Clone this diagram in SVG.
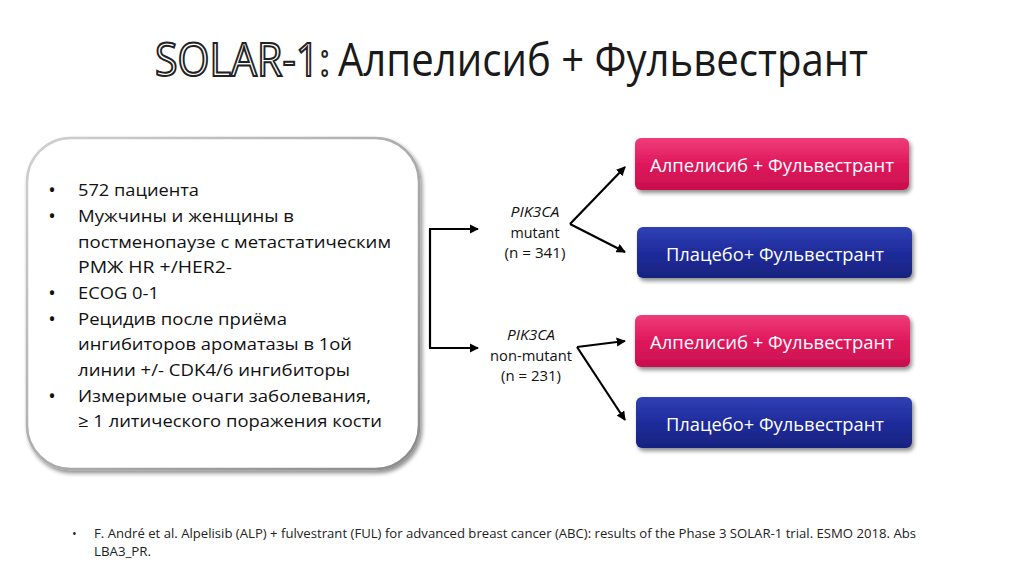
<svg xmlns="http://www.w3.org/2000/svg" width="1024" height="574" viewBox="0 0 1024 574">
  <defs>
    <linearGradient id="gPink" x1="0" y1="0" x2="0" y2="1">
      <stop offset="0" stop-color="#ee3d78"/>
      <stop offset="0.5" stop-color="#e0185c"/>
      <stop offset="1" stop-color="#c80f4e"/>
    </linearGradient>
    <linearGradient id="gBlue" x1="0" y1="0" x2="0" y2="1">
      <stop offset="0" stop-color="#3040b4"/>
      <stop offset="0.5" stop-color="#1f2c9c"/>
      <stop offset="1" stop-color="#18237f"/>
    </linearGradient>
    <linearGradient id="gBorder" x1="0" y1="0" x2="1" y2="1">
      <stop offset="0" stop-color="#d0d0d0"/>
      <stop offset="1" stop-color="#8a8a8a"/>
    </linearGradient>
    <filter id="shadow" x="-10%" y="-10%" width="125%" height="135%">
      <feGaussianBlur in="SourceAlpha" stdDeviation="2"/>
      <feOffset dx="2" dy="3" result="b"/>
      <feComponentTransfer><feFuncA type="linear" slope="0.45"/></feComponentTransfer>
      <feMerge><feMergeNode/><feMergeNode in="SourceGraphic"/></feMerge>
    </filter>
    <marker id="arrow" viewBox="0 0 10 10" refX="9" refY="5" markerWidth="4.2" markerHeight="4.2" orient="auto" markerUnits="strokeWidth">
      <path d="M0,0 L10,5 L0,10 z" fill="#000"/>
    </marker>
    <style>
      .t { font-family: "Open Sans", "Noto Sans", "DejaVu Sans", sans-serif; }
      .body { font-size: 17px; fill: #111; }
      .bul { font-size: 20px; fill: #111; text-anchor: middle; }
      .lbl { font-size: 14px; fill: #111; text-anchor: middle; }
      .btxt { font-size: 18px; fill: #fff; text-anchor: middle; }
      .foot { font-size: 12.5px; fill: #222; }
      .conn { fill: none; stroke: #000; stroke-width: 2.2; }
    </style>
  </defs>

  <rect width="1024" height="574" fill="#fff"/>

  <g id="title">
    <text class="t" x="155" y="76" font-size="45" fill="#fff" stroke="#222" stroke-width="2" textLength="175" lengthAdjust="spacingAndGlyphs">SOLAR-1:</text>
    <text class="t" x="338" y="76" font-size="45" fill="#1a1a1a" textLength="530" lengthAdjust="spacingAndGlyphs">Алпелисиб + Фульвестрант</text>
  </g>

  <g id="criteria">
    <rect x="27" y="138" width="392" height="331" rx="44" ry="44" fill="#fff" stroke="url(#gBorder)" stroke-width="2.5" filter="url(#shadow)"/>
    <g class="t body">
      <text class="bul" x="52" y="197">•</text>
      <text x="78" y="196" textLength="121" lengthAdjust="spacingAndGlyphs">572 пациента</text>
      <text class="bul" x="52" y="223">•</text>
      <text x="78" y="222" textLength="216" lengthAdjust="spacingAndGlyphs">Мужчины и женщины в</text>
      <text x="78" y="248" textLength="313" lengthAdjust="spacingAndGlyphs">постменопаузе с метастатическим</text>
      <text x="78" y="273" textLength="154" lengthAdjust="spacingAndGlyphs">РМЖ HR +/HER2-</text>
      <text class="bul" x="52" y="300">•</text>
      <text x="78" y="299" textLength="81" lengthAdjust="spacingAndGlyphs">ECOG 0-1</text>
      <text class="bul" x="52" y="326">•</text>
      <text x="78" y="325" textLength="209" lengthAdjust="spacingAndGlyphs">Рецидив после приёма</text>
      <text x="78" y="350" textLength="274" lengthAdjust="spacingAndGlyphs">ингибиторов ароматазы в 1ой</text>
      <text x="78" y="376" textLength="272" lengthAdjust="spacingAndGlyphs">линии +/- CDK4/6 ингибиторы</text>
      <text class="bul" x="52" y="403">•</text>
      <text x="78" y="402" textLength="293" lengthAdjust="spacingAndGlyphs">Измеримые очаги заболевания,</text>
      <text x="78" y="427" textLength="304" lengthAdjust="spacingAndGlyphs">≥ 1 литического поражения кости</text>
    </g>
  </g>

  <g id="mutant-label" class="t lbl">
    <text x="535" y="217" font-style="italic" textLength="49" lengthAdjust="spacingAndGlyphs">PIK3CA</text>
    <text x="535" y="238" textLength="49" lengthAdjust="spacingAndGlyphs">mutant</text>
    <text x="535" y="258" textLength="61" lengthAdjust="spacingAndGlyphs">(n = 341)</text>
  </g>

  <g id="nonmutant-label" class="t lbl">
    <text x="531" y="340" font-style="italic" textLength="48" lengthAdjust="spacingAndGlyphs">PIK3CA</text>
    <text x="531" y="361" textLength="82" lengthAdjust="spacingAndGlyphs">non-mutant</text>
    <text x="531" y="381" textLength="60" lengthAdjust="spacingAndGlyphs">(n = 231)</text>
  </g>

  <g id="arm1">
    <rect x="635" y="138" width="274" height="52" rx="6" fill="url(#gPink)" filter="url(#shadow)"/>
    <text class="t btxt" x="772" y="172" textLength="244" lengthAdjust="spacingAndGlyphs">Алпелисиб + Фульвестрант</text>
  </g>
  <g id="arm2">
    <rect x="637" y="227" width="275" height="51" rx="6" fill="url(#gBlue)" filter="url(#shadow)"/>
    <text class="t btxt" x="775" y="261" textLength="218" lengthAdjust="spacingAndGlyphs">Плацебо+ Фульвестрант</text>
  </g>
  <g id="arm3">
    <rect x="635" y="315" width="275" height="52" rx="6" fill="url(#gPink)" filter="url(#shadow)"/>
    <text class="t btxt" x="772" y="349" textLength="244" lengthAdjust="spacingAndGlyphs">Алпелисиб + Фульвестрант</text>
  </g>
  <g id="arm4">
    <rect x="636" y="397" width="276" height="51" rx="6" fill="url(#gBlue)" filter="url(#shadow)"/>
    <text class="t btxt" x="775" y="431" textLength="218" lengthAdjust="spacingAndGlyphs">Плацебо+ Фульвестрант</text>
  </g>

  <g id="connectors">
    <path class="conn" d="M430,229 V348"/>
    <path class="conn" d="M429,229 H478" marker-end="url(#arrow)"/>
    <path class="conn" d="M429,348 H478" marker-end="url(#arrow)"/>
    <path class="conn" d="M570,224 L625,167" marker-end="url(#arrow)"/>
    <path class="conn" d="M570,224 L625,252" marker-end="url(#arrow)"/>
    <path class="conn" d="M577,347 L625,341" marker-end="url(#arrow)"/>
    <path class="conn" d="M577,347 L625,420" marker-end="url(#arrow)"/>
  </g>

  <g id="footnote" class="t foot">
    <text x="72" y="538">•</text>
    <text x="94" y="538" textLength="822" lengthAdjust="spacingAndGlyphs">F. André et al. Alpelisib (ALP) + fulvestrant (FUL) for advanced breast cancer (ABC): results of the Phase 3 SOLAR-1 trial. ESMO 2018. Abs</text>
    <text x="94" y="556" textLength="57" lengthAdjust="spacingAndGlyphs">LBA3_PR.</text>
  </g>
</svg>
